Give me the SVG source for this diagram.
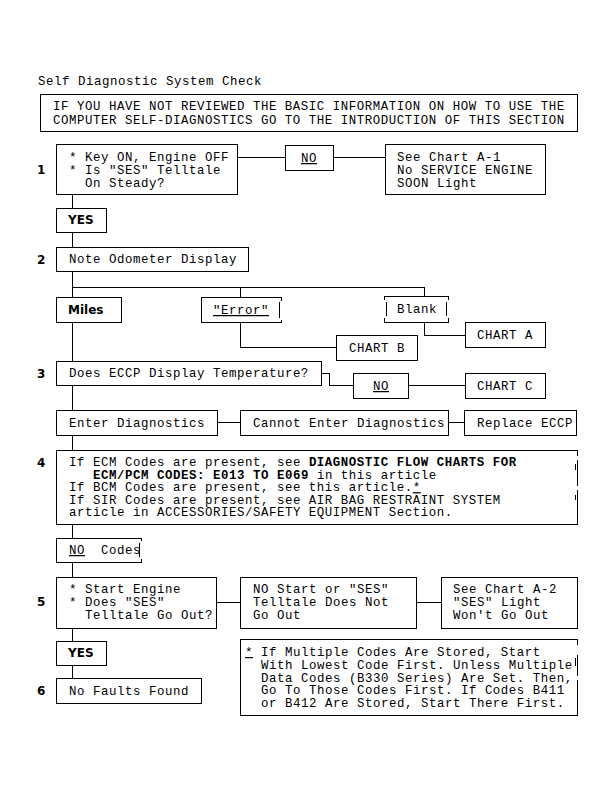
<svg xmlns="http://www.w3.org/2000/svg" width="615" height="791" viewBox="0 0 615 791">
<style>
.b{fill:#fff;stroke:#000;stroke-width:1;shape-rendering:crispEdges}
.l{fill:none;stroke:#000;stroke-width:1;shape-rendering:crispEdges}
text{font-family:"Liberation Mono","DejaVu Sans Mono",monospace;font-size:12.4px;letter-spacing:0.56px;fill:#000;white-space:pre}
.bd{font-weight:bold}
.n{font-family:"DejaVu Sans","Liberation Sans",sans-serif;font-weight:bold;font-size:12px;letter-spacing:0}
.u{text-decoration:underline}
</style>
<rect width="615" height="791" fill="#fff"/>
<text x="38" y="85">Self Diagnostic System Check</text>
<g id="connectors">
<path class="l" d="M72.5 194V208M72.5 232V247M72.5 271V297M72.5 287.5H424.5M240.5 287V297M424.5 287V296M72.5 322V361M72.5 385V410M72.5 435V450M72.5 524V538M72.5 562V577M72.5 628V641M72.5 665V678"/>
<path class="l" d="M237 157.5H285M333 157.5H385"/>
<path class="l" d="M424.5 322V335.5H465M240.5 322V347.5H336"/>
<path class="l" d="M321 373.5H329.5V385.5H353M408 385.5H465"/>
<path class="l" d="M217 422.5H240M448 422.5H464"/>
<path class="l" d="M216 602.5H240M416 602.5H441"/>
</g>
<g id="header">
<rect class="b" x="40.5" y="94.5" width="537" height="37"/>
<text x="53" y="110">IF YOU HAVE NOT REVIEWED THE BASIC INFORMATION ON HOW TO USE THE</text>
<text x="53" y="124">COMPUTER SELF-DIAGNOSTICS GO TO THE INTRODUCTION OF THIS SECTION</text>
</g>
<g id="step1">
<text class="n" x="37" y="174">1</text>
<rect class="b" x="56.5" y="144.5" width="181" height="50"/>
<text x="69" y="161">* Key ON, Engine OFF</text>
<text x="69" y="174">* Is "SES" Telltale</text>
<text x="85" y="187">On Steady?</text>
</g>
<g id="no1">
<rect class="b" x="285.5" y="145.5" width="48" height="25"/>
<text class="u" x="301" y="162">NO</text>
</g>
<g id="chartA1">
<rect class="b" x="385.5" y="144.5" width="160" height="50"/>
<text x="397" y="161">See Chart A-1</text>
<text x="397" y="174">No SERVICE ENGINE</text>
<text x="397" y="187">SOON Light</text>
</g>
<g id="yes1">
<rect class="b" x="56.5" y="208.5" width="50" height="24"/>
<text class="n" x="68" y="224">YES</text>
</g>
<g id="step2">
<text class="n" x="37" y="264">2</text>
<rect class="b" x="56.5" y="247.5" width="192" height="24"/>
<text x="69" y="263">Note Odometer Display</text>
</g>
<g id="miles">
<rect class="b" x="56.5" y="297.5" width="65" height="25"/>
<text class="n" x="68" y="314">Miles</text>
</g>
<g id="error">
<path class="l" d="M281.5 300.5V297.5H201.5V322.5H281.5V319.5M279.5 302V318"/>
<text class="u" x="213" y="314">"Error"</text>
</g>
<g id="blank">
<path class="l" d="M384.5 300V296.5H448.5V300M384.5 318V322.5H448.5V318M386.5 302V316M446.5 302V316"/>
<text x="397" y="313">Blank</text>
</g>
<g id="chartA">
<rect class="b" x="465.5" y="322.5" width="80" height="25"/>
<text x="477" y="339">CHART A</text>
</g>
<g id="chartB">
<rect class="b" x="336.5" y="335.5" width="81" height="25"/>
<text x="349" y="352">CHART B</text>
</g>
<g id="step3">
<text class="n" x="37" y="378">3</text>
<rect class="b" x="56.5" y="361.5" width="265" height="24"/>
<text x="69" y="377">Does ECCP Display Temperature?</text>
</g>
<g id="no3">
<rect class="b" x="353.5" y="373.5" width="55" height="25"/>
<text class="u" x="373" y="390">NO</text>
</g>
<g id="chartC">
<rect class="b" x="465.5" y="373.5" width="80" height="25"/>
<text x="477" y="390">CHART C</text>
</g>
<g id="enter">
<rect class="b" x="56.5" y="410.5" width="161" height="25"/>
<text x="69" y="427">Enter Diagnostics</text>
</g>
<g id="cannot">
<rect class="b" x="240.5" y="410.5" width="208" height="25"/>
<text x="253" y="427">Cannot Enter Diagnostics</text>
</g>
<g id="replace">
<rect class="b" x="464.5" y="410.5" width="112" height="25"/>
<text x="477" y="427">Replace ECCP</text>
</g>
<g id="step4">
<text class="n" x="37" y="467">4</text>
<path class="l" d="M577.5 456V450.5H56.5V524.5H577.5V490M577.5 486V460M575.5 495V500M575.5 464V470"/>
<text x="69" y="466">If ECM Codes are present, see <tspan class="bd">DIAGNOSTIC FLOW CHARTS FOR</tspan></text>
<text x="69" y="478.6">   <tspan class="bd">ECM/PCM CODES: E013 TO E069</tspan> in this article</text>
<text x="69" y="491.2">If BCM Codes are present, see this article.<tspan class="u">*</tspan></text>
<text x="69" y="503.8">If SIR Codes are present, see AIR BAG RESTRAINT SYSTEM</text>
<text x="69" y="516.4">article in ACCESSORIES/SAFETY EQUIPMENT Section.</text>
</g>
<g id="nocodes">
<path class="l" d="M141.5 541V538.5H56.5V562.5H141.5V559M139.5 543V557"/>
<text class="u" x="69" y="554">NO</text>
<text x="101" y="554">Codes</text>
</g>
<g id="step5">
<text class="n" x="37" y="606">5</text>
<rect class="b" x="56.5" y="577.5" width="160" height="51"/>
<text x="69" y="593">* Start Engine</text>
<text x="69" y="606">* Does "SES"</text>
<text x="85" y="619">Telltale Go Out?</text>
</g>
<g id="nostart">
<rect class="b" x="240.5" y="577.5" width="176" height="51"/>
<text x="253" y="593">NO Start or "SES"</text>
<text x="253" y="606">Telltale Does Not</text>
<text x="253" y="619">Go Out</text>
</g>
<g id="chartA2">
<rect class="b" x="441.5" y="577.5" width="136" height="51"/>
<text x="453" y="593">See Chart A-2</text>
<text x="453" y="606">"SES" Light</text>
<text x="453" y="619">Won't Go Out</text>
</g>
<g id="yes2">
<rect class="b" x="56.5" y="641.5" width="50" height="24"/>
<text class="n" x="68" y="657">YES</text>
</g>
<g id="step6">
<text class="n" x="37" y="695">6</text>
<rect class="b" x="56.5" y="678.5" width="145" height="25"/>
<text x="69" y="695">No Faults Found</text>
</g>
<g id="footnote">
<path class="l" d="M577.5 645V639.5H240.5V715.5H577.5V680M577.5 676V655M575.5 658V666"/>
<text class="u" x="245" y="656">*</text>
<text x="261" y="656">If Multiple Codes Are Stored, Start</text>
<text x="261" y="668.75">With Lowest Code First. Unless Multiple</text>
<text x="261" y="681.5">Data Codes (B330 Series) Are Set. Then,</text>
<text x="261" y="694.25">Go To Those Codes First. If Codes B411</text>
<text x="261" y="707">or B412 Are Stored, Start There First.</text>
</g>
</svg>
